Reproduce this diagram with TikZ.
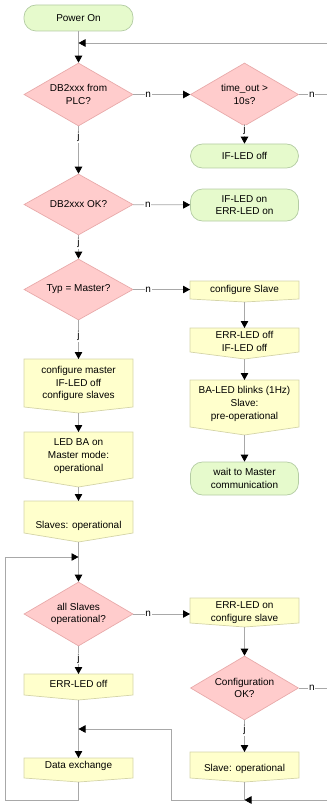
\documentclass[tikz,border=0pt]{standalone}
\usepackage{fontspec}
\setmainfont{Liberation Sans}
\usetikzlibrary{arrows.meta,shapes.geometric}
\definecolor{pinkfill}{HTML}{FFCCCC}
\definecolor{pinkline}{HTML}{E8AAAA}
\definecolor{greenfill}{HTML}{E6FACC}
\definecolor{greenline}{HTML}{B4CCA4}
\definecolor{yelfill}{HTML}{FFFFCC}
\definecolor{yelline}{HTML}{D4D4A8}
\definecolor{linegray}{HTML}{A8A8A8}
\tikzset{
  txt/.style={align=center,font=\fontsize{10}{12.7}\selectfont,inner sep=0pt},
  term/.style={txt,draw=greenline,fill=greenfill,rounded corners=12pt,minimum width=108pt,line width=0.7pt},
  decis/.style={txt,shape=diamond,aspect=1.73,draw=pinkline,fill=pinkfill,minimum width=109pt,line width=0.7pt},
  procshape/.style={draw=yelline,fill=yelfill,line width=0.7pt},
  conn/.style={draw=linegray,line width=0.8pt},
  arr/.style={conn,-{Triangle[length=7pt,width=7.5pt,color=black,fill=black]}},
  lbl/.style={txt,fill=white,inner sep=0.8pt,text=black}
}
\newcommand\procbox[7]{%
  \path[procshape] (#2-54.5,#3) -- (#2+54.5,#3) -- (#2+54.5,#4) -- (#2,#5) -- (#2-54.5,#4) -- cycle;
  \node[txt] (#1) at (#2,#6) {#7};
  \coordinate (#1-t) at (#2,#3);
  \coordinate (#1-b) at (#2,#5);
  \coordinate (#1-l) at (#2-54.5,#6);
}
\begin{document}
\begin{tikzpicture}[x=1pt,y=-1pt]
\useasboundingbox (0,0) rectangle (327,805);
% terminals
\node[term,minimum width=109pt,minimum height=26pt] (power) at (78.5,18) {Power On};
\node[term,minimum height=24pt] (ifoff) at (244.5,156) {IF-LED off};
\node[term,minimum height=32pt] (ifon) at (244.5,205) {IF-LED on\\ERR-LED on};
\node[term,minimum height=33pt] (wait) at (244.5,478.5) {wait to Master\\communication};
% decisions
\node[decis,minimum height=63pt] (d1) at (78.5,94.5) {DB2xxx from\\PLC?};
\node[decis,minimum height=63pt,minimum width=108pt] (d2) at (244.5,94.5) {time\_out >\\10s?};
\node[decis,minimum height=61pt] (d3) at (78.5,204.5) {DB2xxx OK?};
\node[decis,minimum height=61pt] (d4) at (78.5,289.5) {Typ = Master?};
\node[decis,minimum height=64pt] (d5) at (78.5,614) {all Slaves\\operational?};
\node[decis,minimum height=64pt,minimum width=108pt] (d6) at (244.5,688) {Configuration\\OK?};
% process boxes
\procbox{cslave}{244.5}{281}{299}{302}{290}{configure Slave}
\procbox{errleds}{244.5}{328}{352}{359}{341.5}{ERR-LED off\\IF-LED off}
\procbox{blink}{244.5}{380}{427}{435}{404}{BA-LED blinks (1Hz)\\Slave:\\pre-operational}
\procbox{cmaster}{78.5}{359}{407}{413}{383.5}{configure master\\IF-LED off\\configure slaves}
\procbox{ledba}{78.5}{432}{478}{487}{456}{LED BA on\\Master mode:\\operational}
\procbox{slavesop}{78.5}{501}{533}{542}{526}{Slaves: operational}
\procbox{erron}{244.5}{598}{623}{627}{612.5}{ERR-LED on\\configure slave}
\procbox{erroff}{78.5}{674}{695}{700}{684}{ERR-LED off}
\procbox{dataex}{78.5}{758}{778}{782}{766}{Data exchange}
\procbox{slaveop}{244.5}{752}{778}{782}{769}{Slave: operational}
% junctions and free ends
\coordinate (J1) at (78.5,43);
\coordinate (J2) at (78.5,557);
\coordinate (J3) at (78.5,729);
\coordinate (J4) at (244.5,800);
\coordinate (Lb) at (5,800);
\coordinate (Mb) at (171,800);
\coordinate (eR1) at (327,43);
\coordinate (eR2) at (327,94.5);
\coordinate (eR3) at (327,688);
\coordinate (eR4) at (327,800);
% connectors
\draw[arr] (power) -- (d1);
\draw[arr] (eR1) -- (J1);
\draw[arr] (d1) -- node[lbl,pos=0.26] {n} (d2);
\draw[conn] (d2) -- node[lbl,pos=0.46] {n} (eR2);
\draw[arr] (d2) -- node[lbl,pos=0.22] {j} (ifoff);
\draw[arr] (d1) -- node[lbl,pos=0.23] {j} (d3);
\draw[arr] (d3) -- node[lbl,pos=0.26] {n} (ifon);
\draw[arr] (d3) -- node[lbl,pos=0.33] {j} (d4);
\draw[arr] (d4.east) -- node[lbl,pos=0.26] {n} (d4.east -| cslave-l);
\draw[arr] (cslave-b) -- (errleds-t);
\draw[arr] (errleds-b) -- (blink-t);
\draw[arr] (blink-b) -- (wait);
\draw[arr] (d4) -- node[lbl,pos=0.41] {j} (cmaster-t);
\draw[arr] (cmaster-b) -- (ledba-t);
\draw[arr] (ledba-b) -- (slavesop-t);
\draw[arr] (slavesop-b) -- (d5);
\draw[arr] (dataex-b) |- (Lb) |- (J2);
\draw[arr] (d5.east) -- node[lbl,pos=0.26] {n} (d5.east -| erron-l);
\draw[arr] (erron-b) -- (d6);
\draw[conn] (d6) -- node[lbl,pos=0.46] {n} (eR3);
\draw[arr] (d6) -- node[lbl,pos=0.31] {j} (slaveop-t);
\draw[arr] (d5) -- node[lbl,pos=0.45] {j} (erroff-t);
\draw[arr] (erroff-b) -- (dataex-t);
\draw[conn] (slaveop-b) -- (J4);
\draw[arr] (eR4) -- (J4);
\draw[arr] (J4) -- (Mb) |- (J3);
\end{tikzpicture}
\end{document}
